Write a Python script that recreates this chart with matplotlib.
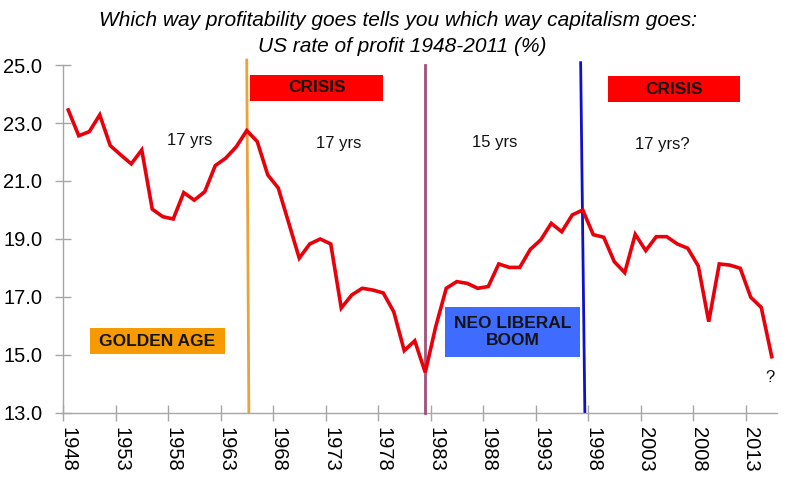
import matplotlib
matplotlib.use("Agg")
import matplotlib.pyplot as plt
from matplotlib.patches import Rectangle
from matplotlib.ticker import FixedLocator, NullFormatter

plt.rcParams['font.family'] = ['Liberation Sans', 'DejaVu Sans']

# US rate of profit (%)
years = list(range(1948, 2016))
profit = [23.45, 22.56, 22.70, 23.28, 22.22, 21.90, 21.59, 22.07, 20.03, 19.77,
          19.69, 20.60, 20.34, 20.63, 21.53, 21.79, 22.18, 22.74, 22.36, 21.21,
          20.76, 19.55, 18.34, 18.83, 19.00, 18.83, 16.62, 17.07, 17.30, 17.24,
          17.14, 16.49, 15.15, 15.49, 14.40, 15.98, 17.30, 17.53, 17.47, 17.30,
          17.36, 18.14, 18.02, 18.02, 18.64, 18.97, 19.54, 19.25, 19.83, 20.00,
          19.15, 19.06, 18.22, 17.84, 19.16, 18.60, 19.08, 19.08, 18.83, 18.68,
          18.07, 16.15, 18.14, 18.10, 17.99, 16.99, 16.64, 14.94]

label_years = list(range(1948, 2016, 5))
y_ticks = [13, 15, 17, 19, 21, 23, 25]

fig = plt.figure(figsize=(8, 4.88), dpi=100)
ax = fig.add_axes([0.07875, 0.1537, 0.8925, 0.7131])

ax.plot(years, profit, color='#E8000B', lw=2.6, solid_joinstyle='miter', zorder=5)

ax.set_xlim(1947.5, 2015.5)
ax.set_ylim(13, 25)

# tick marks sit between categories, labels at the category centres
ax.xaxis.set_major_locator(FixedLocator([y - 0.5 for y in label_years]))
ax.xaxis.set_major_formatter(NullFormatter())
ax.xaxis.set_minor_locator(FixedLocator(label_years))
ax.set_xticklabels([str(y) for y in label_years], minor=True, rotation=270,
                   fontsize=14.5)
ax.tick_params(axis='x', which='major', direction='inout', length=12,
               color='#A6A6A6', width=1)
ax.tick_params(axis='x', which='minor', length=0, pad=10)

ax.set_yticks(y_ticks)
ax.set_yticklabels(['%.1f' % v for v in y_ticks], fontsize=14.5)
ax.tick_params(axis='y', direction='inout', length=12, color='#A6A6A6',
               width=1, pad=9)

for s in ['top', 'right']:
    ax.spines[s].set_visible(False)
for s in ['left', 'bottom']:
    ax.spines[s].set_color('#A6A6A6')
    ax.spines[s].set_linewidth(1)

# period dividers
ax.plot([1965.0, 1965.2], [25.17, 13.05], color='#E8A33A', lw=2, clip_on=False, zorder=4)
ax.plot([1982.0, 1982.0], [25.0, 13.0], color='#A0507A', lw=2, clip_on=False, zorder=4)
ax.plot([1996.8, 1997.2], [25.08, 13.05], color='#1010C8', lw=2, clip_on=False, zorder=4)

# labelled boxes
boxes = [
    (1965.3, 23.77, 12.7, 0.89, '#FF0000', 'CRISIS'),
    (1999.4, 23.71, 12.6, 0.91, '#FF0000', 'CRISIS'),
    (1950.1, 15.02, 12.8, 0.90, '#F59A00', 'GOLDEN AGE'),
    (1983.9, 14.92, 12.8, 1.72, '#3F6BFF', 'NEO LIBERAL\nBOOM'),
]
for x0, y0, w, h, c, txt in boxes:
    ax.add_patch(Rectangle((x0, y0), w, h, facecolor=c, edgecolor='none', zorder=6))
    ax.text(x0 + w / 2, y0 + h / 2, txt, ha='center', va='center',
            fontsize=12.5, fontweight='bold', color='#141414',
            linespacing=1.15, zorder=7)

for x, y, t in [(1959.6, 22.41, '17 yrs'), (1973.8, 22.30, '17 yrs'),
                (1988.6, 22.32, '15 yrs'), (2004.6, 22.27, '17 yrs?'),
                (2014.8, 14.23, '?')]:
    ax.text(x, y, t, ha='center', va='center', fontsize=12, color='#111111')

fig.text(0.497, 0.957, 'Which way profitability goes tells you which way capitalism goes:',
         ha='center', va='center', fontsize=15, style='italic',
         family=['Liberation Sans Narrow', 'Liberation Sans'])
fig.text(0.503, 0.905, 'US rate of profit 1948-2011 (%)',
         ha='center', va='center', fontsize=15, style='italic',
         family=['Liberation Sans Narrow', 'Liberation Sans'])

fig.savefig('out.png', dpi=100)
